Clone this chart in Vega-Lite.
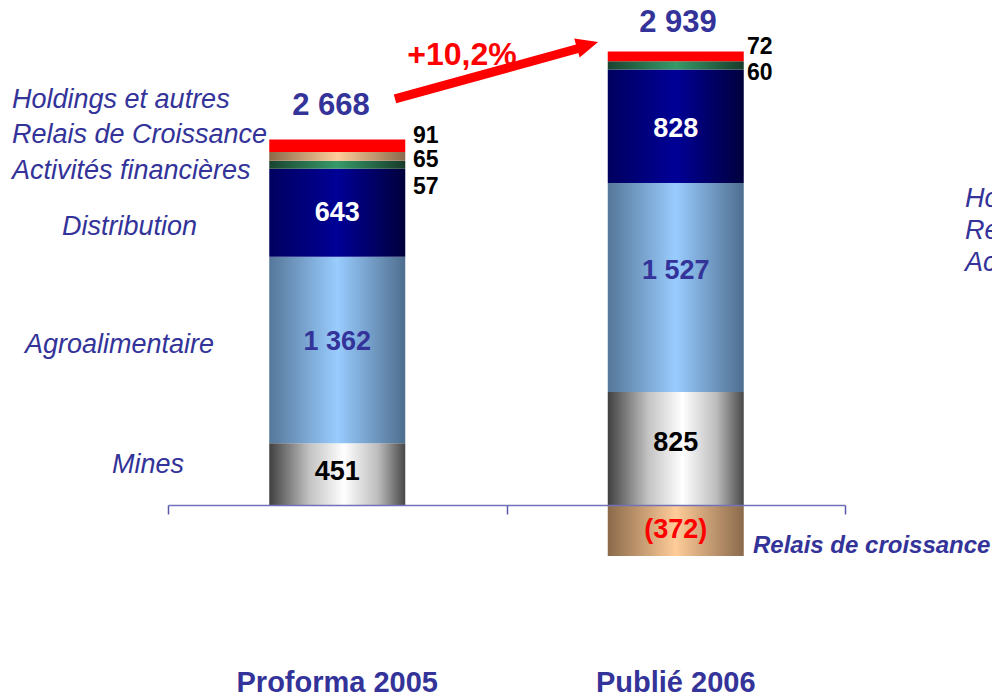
{
  "$schema": "https://vega.github.io/schema/vega-lite/v6.json",
  "width": 677,
  "height": 493,
  "autosize": {"type": "none"},
  "padding": {"left": 168, "top": 12, "right": 147, "bottom": 188},
  "background": "white",
  "config": {"view": {"stroke": null}, "font": "Liberation Sans"},
  "datasets": {
    "barres": [
      {"periode": "Proforma 2005", "rang": 0.5, "segment": "Mines", "valeur": 451},
      {"periode": "Proforma 2005", "rang": 0.5, "segment": "Agroalimentaire", "valeur": 1362},
      {"periode": "Proforma 2005", "rang": 0.5, "segment": "Distribution", "valeur": 643},
      {"periode": "Proforma 2005", "rang": 0.5, "segment": "Activités financières", "valeur": 57},
      {"periode": "Proforma 2005", "rang": 0.5, "segment": "Relais de croissance", "valeur": 65},
      {"periode": "Proforma 2005", "rang": 0.5, "segment": "Holdings et autres", "valeur": 91},
      {"periode": "Publié 2006", "rang": 1.5, "segment": "Mines", "valeur": 825},
      {"periode": "Publié 2006", "rang": 1.5, "segment": "Agroalimentaire", "valeur": 1527},
      {"periode": "Publié 2006", "rang": 1.5, "segment": "Distribution", "valeur": 828},
      {"periode": "Publié 2006", "rang": 1.5, "segment": "Activités financières", "valeur": 60},
      {"periode": "Publié 2006", "rang": 1.5, "segment": "Relais de croissance", "valeur": -372},
      {"periode": "Publié 2006", "rang": 1.5, "segment": "Holdings et autres", "valeur": 72}
    ],
    "internes": [
      {"rang": 0.5, "y": 241, "texte": "451", "segment": "Mines"},
      {"rang": 0.5, "y": 1190, "texte": "1 362", "segment": "Agroalimentaire"},
      {"rang": 0.5, "y": 2132, "texte": "643", "segment": "Distribution"},
      {"rang": 1.5, "y": 453, "texte": "825", "segment": "Mines"},
      {"rang": 1.5, "y": 1709, "texte": "1 527", "segment": "Agroalimentaire"},
      {"rang": 1.5, "y": 2746, "texte": "828", "segment": "Distribution"},
      {"rang": 1.5, "y": -183, "texte": "(372)", "segment": "Relais de croissance"}
    ],
    "externes": [
      {"rang": 0.7238, "y": 2695, "texte": "91"},
      {"rang": 0.7238, "y": 2519, "texte": "65"},
      {"rang": 0.7238, "y": 2322, "texte": "57"},
      {"rang": 1.7105, "y": 3345, "texte": "72"},
      {"rang": 1.7105, "y": 3155, "texte": "60"}
    ],
    "totaux": [
      {"rang": 0.4815, "y": 2914, "texte": "2 668"},
      {"rang": 1.5066, "y": 3520, "texte": "2 939"}
    ],
    "croissance": [
      {"rang": 0.8685, "y": 3286, "texte": "+10,2%"}
    ],
    "legendes": [
      {"rang": -0.4608, "y": 2957, "texte": "Holdings et autres"},
      {"rang": -0.4608, "y": 2702, "texte": "Relais de Croissance"},
      {"rang": -0.4608, "y": 2439, "texte": "Activités financières"},
      {"rang": -0.3131, "y": 2030, "texte": "Distribution"},
      {"rang": -0.4225, "y": 1168, "texte": "Agroalimentaire"},
      {"rang": -0.1654, "y": 292, "texte": "Mines"},
      {"rang": 2.3545, "y": 2235, "texte": "Holdings et autres"},
      {"rang": 2.3545, "y": 2001, "texte": "Relais de Croissance"},
      {"rang": 2.3545, "y": 1767, "texte": "Activités financières"}
    ],
    "relais": [
      {"rang": 1.7282, "y": -299, "texte": "Relais de croissance"}
    ],
    "categories": [
      {"rang": 0.5, "y": -1300, "texte": "Proforma 2005"},
      {"rang": 1.5, "y": -1300, "texte": "Publié 2006"}
    ],
    "fleche": [
      {"rang": 0.6706, "y": 2965, "rang2": 1.2171, "y2": 3337}
    ],
    "pointe": [
      {"rang": 1.2393, "y": 3359}
    ]
  },
  "layer": [
    {
      "data": {"name": "barres"},
      "transform": [{"stack": "valeur", "groupby": ["periode"], "as": ["bas", "haut"]}],
      "encoding": {
        "x": {"field": "rang", "type": "quantitative", "title": null, "scale": {"domain": [0, 2], "nice": false, "zero": false, "padding": 0},
          "axis": {"values": [0, 1, 2], "labels": false, "grid": false, "domainColor": "#7272b8", "domainWidth": 1.5, "tickColor": "#5a5aaa", "tickWidth": 1.5, "tickSize": 9, "title": null, "zindex": 1}},
        "y": {"field": "bas", "type": "quantitative", "scale": {"domain": [0, 3600], "nice": false, "padding": 0}, "axis": null},
        "y2": {"field": "haut"}
      },
      "layer": [
        {"transform": [{"filter": "datum.segment === 'Mines'"}],
         "mark": {"type": "bar", "orient": "vertical", "size": 136, "color": {"gradient": "linear", "x1": 0, "x2": 1, "y1": 0, "y2": 0, "stops": [{"offset": 0, "color": "#404040"}, {"offset": 0.3, "color": "#c4c4c4"}, {"offset": 0.55, "color": "#ffffff"}, {"offset": 0.8, "color": "#bcbcbc"}, {"offset": 1, "color": "#484848"}]}}},
        {"transform": [{"filter": "datum.segment === 'Agroalimentaire'"}],
         "mark": {"type": "bar", "orient": "vertical", "size": 136, "color": {"gradient": "linear", "x1": 0, "x2": 1, "y1": 0, "y2": 0, "stops": [{"offset": 0, "color": "#557799"}, {"offset": 0.5, "color": "#99ccff"}, {"offset": 1, "color": "#4e6e8e"}]}}},
        {"transform": [{"filter": "datum.segment === 'Distribution'"}],
         "mark": {"type": "bar", "orient": "vertical", "size": 136, "color": {"gradient": "linear", "x1": 0, "x2": 1, "y1": 0, "y2": 0, "stops": [{"offset": 0, "color": "#000060"}, {"offset": 0.5, "color": "#000096"}, {"offset": 1, "color": "#00003c"}]}}},
        {"transform": [{"filter": "datum.segment === 'Activités financières'"}],
         "mark": {"type": "bar", "orient": "vertical", "size": 136, "color": {"gradient": "linear", "x1": 0, "x2": 1, "y1": 0, "y2": 0, "stops": [{"offset": 0, "color": "#1a4430"}, {"offset": 0.5, "color": "#379a68"}, {"offset": 1, "color": "#183c2a"}]}}},
        {"transform": [{"filter": "datum.segment === 'Relais de croissance'"}],
         "mark": {"type": "bar", "orient": "vertical", "size": 136, "color": {"gradient": "linear", "x1": 0, "x2": 1, "y1": 0, "y2": 0, "stops": [{"offset": 0, "color": "#8b6a4a"}, {"offset": 0.5, "color": "#ffcc99"}, {"offset": 1, "color": "#8a6a4c"}]}}},
        {"transform": [{"filter": "datum.segment === 'Holdings et autres'"}],
         "mark": {"type": "bar", "orient": "vertical", "size": 136, "color": "#ff0000"}}
      ]
    },
    {
      "data": {"name": "fleche"},
      "mark": {"type": "rule", "color": "#ff0000", "strokeWidth": 9, "strokeCap": "butt"},
      "encoding": {
        "x": {"field": "rang", "type": "quantitative", "title": null, "scale": {"domain": [0, 2], "nice": false, "zero": false, "padding": 0},
          "axis": {"values": [0, 1, 2], "labels": false, "grid": false, "domainColor": "#7272b8", "domainWidth": 1.5, "tickColor": "#5a5aaa", "tickWidth": 1.5, "tickSize": 9, "title": null, "zindex": 1}},
        "y": {"field": "y", "type": "quantitative", "scale": {"domain": [0, 3600], "nice": false, "padding": 0}, "axis": null},
        "x2": {"field": "rang2"},
        "y2": {"field": "y2"}
      }
    },
    {
      "data": {"name": "pointe"},
      "mark": {"type": "point", "shape": "M1,0L-1,-0.9L-1,0.9Z", "filled": true, "color": "#ff0000", "opacity": 1, "size": 484, "angle": 344},
      "encoding": {
        "x": {"field": "rang", "type": "quantitative", "title": null, "scale": {"domain": [0, 2], "nice": false, "zero": false, "padding": 0},
          "axis": {"values": [0, 1, 2], "labels": false, "grid": false, "domainColor": "#7272b8", "domainWidth": 1.5, "tickColor": "#5a5aaa", "tickWidth": 1.5, "tickSize": 9, "title": null, "zindex": 1}},
        "y": {"field": "y", "type": "quantitative", "scale": {"domain": [0, 3600], "nice": false, "padding": 0}, "axis": null}
      }
    },
    {
      "data": {"name": "internes"},
      "mark": {"type": "text", "fontWeight": "bold", "fontSize": 27, "align": "center", "baseline": "middle"},
      "encoding": {
        "x": {"field": "rang", "type": "quantitative", "title": null, "scale": {"domain": [0, 2], "nice": false, "zero": false, "padding": 0},
          "axis": {"values": [0, 1, 2], "labels": false, "grid": false, "domainColor": "#7272b8", "domainWidth": 1.5, "tickColor": "#5a5aaa", "tickWidth": 1.5, "tickSize": 9, "title": null, "zindex": 1}},
        "y": {"field": "y", "type": "quantitative", "scale": {"domain": [0, 3600], "nice": false, "padding": 0}, "axis": null},
        "text": {"field": "texte"},
        "color": {"field": "segment", "type": "nominal", "legend": null, "scale": {"domain": ["Mines", "Agroalimentaire", "Distribution", "Relais de croissance"], "range": ["#000000", "#333399", "#ffffff", "#ff0000"]}}
      }
    },
    {
      "data": {"name": "externes"},
      "mark": {"type": "text", "fontWeight": "bold", "fontSize": 23, "align": "left", "baseline": "middle", "color": "#000000"},
      "encoding": {
        "x": {"field": "rang", "type": "quantitative", "title": null, "scale": {"domain": [0, 2], "nice": false, "zero": false, "padding": 0},
          "axis": {"values": [0, 1, 2], "labels": false, "grid": false, "domainColor": "#7272b8", "domainWidth": 1.5, "tickColor": "#5a5aaa", "tickWidth": 1.5, "tickSize": 9, "title": null, "zindex": 1}},
        "y": {"field": "y", "type": "quantitative", "scale": {"domain": [0, 3600], "nice": false, "padding": 0}, "axis": null},
        "text": {"field": "texte"}
      }
    },
    {
      "data": {"name": "totaux"},
      "mark": {"type": "text", "fontWeight": "bold", "fontSize": 31, "align": "center", "baseline": "middle", "color": "#333399"},
      "encoding": {
        "x": {"field": "rang", "type": "quantitative", "title": null, "scale": {"domain": [0, 2], "nice": false, "zero": false, "padding": 0},
          "axis": {"values": [0, 1, 2], "labels": false, "grid": false, "domainColor": "#7272b8", "domainWidth": 1.5, "tickColor": "#5a5aaa", "tickWidth": 1.5, "tickSize": 9, "title": null, "zindex": 1}},
        "y": {"field": "y", "type": "quantitative", "scale": {"domain": [0, 3600], "nice": false, "padding": 0}, "axis": null},
        "text": {"field": "texte"}
      }
    },
    {
      "data": {"name": "croissance"},
      "mark": {"type": "text", "fontWeight": "bold", "fontSize": 32, "align": "center", "baseline": "middle", "color": "#ff0000"},
      "encoding": {
        "x": {"field": "rang", "type": "quantitative", "title": null, "scale": {"domain": [0, 2], "nice": false, "zero": false, "padding": 0},
          "axis": {"values": [0, 1, 2], "labels": false, "grid": false, "domainColor": "#7272b8", "domainWidth": 1.5, "tickColor": "#5a5aaa", "tickWidth": 1.5, "tickSize": 9, "title": null, "zindex": 1}},
        "y": {"field": "y", "type": "quantitative", "scale": {"domain": [0, 3600], "nice": false, "padding": 0}, "axis": null},
        "text": {"field": "texte"}
      }
    },
    {
      "data": {"name": "legendes"},
      "mark": {"type": "text", "fontStyle": "italic", "fontSize": 27, "align": "left", "baseline": "middle", "color": "#333399"},
      "encoding": {
        "x": {"field": "rang", "type": "quantitative", "title": null, "scale": {"domain": [0, 2], "nice": false, "zero": false, "padding": 0},
          "axis": {"values": [0, 1, 2], "labels": false, "grid": false, "domainColor": "#7272b8", "domainWidth": 1.5, "tickColor": "#5a5aaa", "tickWidth": 1.5, "tickSize": 9, "title": null, "zindex": 1}},
        "y": {"field": "y", "type": "quantitative", "scale": {"domain": [0, 3600], "nice": false, "padding": 0}, "axis": null},
        "text": {"field": "texte"}
      }
    },
    {
      "data": {"name": "relais"},
      "mark": {"type": "text", "fontStyle": "italic", "fontWeight": "bold", "fontSize": 24, "align": "left", "baseline": "middle", "color": "#333399"},
      "encoding": {
        "x": {"field": "rang", "type": "quantitative", "title": null, "scale": {"domain": [0, 2], "nice": false, "zero": false, "padding": 0},
          "axis": {"values": [0, 1, 2], "labels": false, "grid": false, "domainColor": "#7272b8", "domainWidth": 1.5, "tickColor": "#5a5aaa", "tickWidth": 1.5, "tickSize": 9, "title": null, "zindex": 1}},
        "y": {"field": "y", "type": "quantitative", "scale": {"domain": [0, 3600], "nice": false, "padding": 0}, "axis": null},
        "text": {"field": "texte"}
      }
    },
    {
      "data": {"name": "categories"},
      "mark": {"type": "text", "fontWeight": "bold", "fontSize": 29, "align": "center", "baseline": "middle", "color": "#333399"},
      "encoding": {
        "x": {"field": "rang", "type": "quantitative", "title": null, "scale": {"domain": [0, 2], "nice": false, "zero": false, "padding": 0},
          "axis": {"values": [0, 1, 2], "labels": false, "grid": false, "domainColor": "#7272b8", "domainWidth": 1.5, "tickColor": "#5a5aaa", "tickWidth": 1.5, "tickSize": 9, "title": null, "zindex": 1}},
        "y": {"field": "y", "type": "quantitative", "scale": {"domain": [0, 3600], "nice": false, "padding": 0}, "axis": null},
        "text": {"field": "texte"}
      }
    }
  ]
}
